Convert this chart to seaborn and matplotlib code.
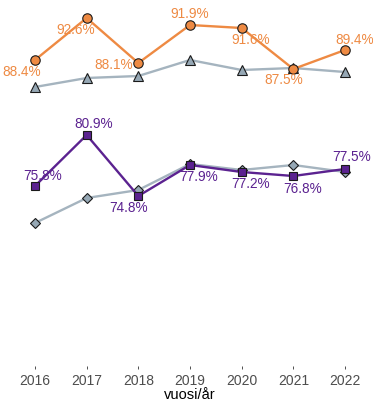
import matplotlib
matplotlib.use("Agg")
import matplotlib.pyplot as plt
import seaborn as sns
import pandas as pd

years = [2016, 2017, 2018, 2019, 2020, 2021, 2022]
orange_vals = [88.4, 92.6, 88.1, 91.9, 91.6, 87.5, 89.4]
gray_tri_vals = [85.7, 86.6, 86.8, 88.4, 87.4, 87.6, 87.2]
purple_vals = [75.8, 80.9, 74.8, 77.9, 77.2, 76.8, 77.5]
gray_dia_vals = [72.1, 74.6, 75.4, 78.0, 77.4, 77.9, 77.2]
xlabel = "vuosi/år"

sns.set_theme(style="white")
plt.rcParams['font.family'] = ['Liberation Sans', 'DejaVu Sans']

fig = plt.figure(figsize=(3.73, 4.04), dpi=100)
ax = fig.add_axes([19.5 / 373, 1 - 366 / 404, 341 / 373, 361 / 404])

ORANGE = "#EE8A43"
PURPLE = "#5B2290"
GRAY_LINE = "#A5B4BF"
GRAY_FILL = "#96A8B5"

def draw(vals, color, fill, marker, ms, z):
    df = pd.DataFrame({"year": years, "value": vals})
    sns.lineplot(data=df, x="year", y="value", ax=ax, color=color, linewidth=1.7,
                 marker=marker, markersize=ms, markerfacecolor=fill,
                 markeredgecolor="#1a1a1a", markeredgewidth=0.8, zorder=z)

draw(gray_tri_vals, GRAY_LINE, GRAY_FILL, "^", 7.5, 2)
draw(gray_dia_vals, GRAY_LINE, GRAY_FILL, "D", 5.5, 2)
draw(orange_vals, ORANGE, ORANGE, "o", 6.8, 3)
draw(purple_vals, PURPLE, PURPLE, "s", 6, 3)

orange_off = [(-13, -12), (-11, -12), (-25, -2), (0, 11), (9, -12), (-10, -11), (10, 10)]
purple_off = [(8, 10), (7, 11), (-10, -12), (9, -12), (9, -12), (9, -13), (7, 12)]

for x, v, (dx, dy) in zip(years, orange_vals, orange_off):
    ax.annotate(f"{v:.1f}%", (x, v), xytext=(dx * 0.72, dy * 0.72), textcoords="offset points",
                ha="center", va="center", fontsize=9.8, color=ORANGE, zorder=5)
for x, v, (dx, dy) in zip(years, purple_vals, purple_off):
    ax.annotate(f"{v:.1f}%", (x, v), xytext=(dx * 0.72, dy * 0.72), textcoords="offset points",
                ha="center", va="center", fontsize=9.8, color=PURPLE, zorder=5)

ax.set_xlim(2015.7, 2022.3)
ax.set_ylim(57.8, 93.9)
ax.set_xticks(years)
ax.set_xticklabels([str(y) for y in years])
ax.set_yticks([])
ax.set_ylabel("")
ax.set_xlabel(xlabel, fontsize=10.5, color="black", labelpad=0)
ax.tick_params(axis="x", length=2.5, width=0.6, color="#333333", direction="out",
               labelsize=10, labelcolor="#4D4D4D", pad=3, bottom=True)
for s in ax.spines.values():
    s.set_visible(False)

fig.savefig("out.png", dpi=100)
